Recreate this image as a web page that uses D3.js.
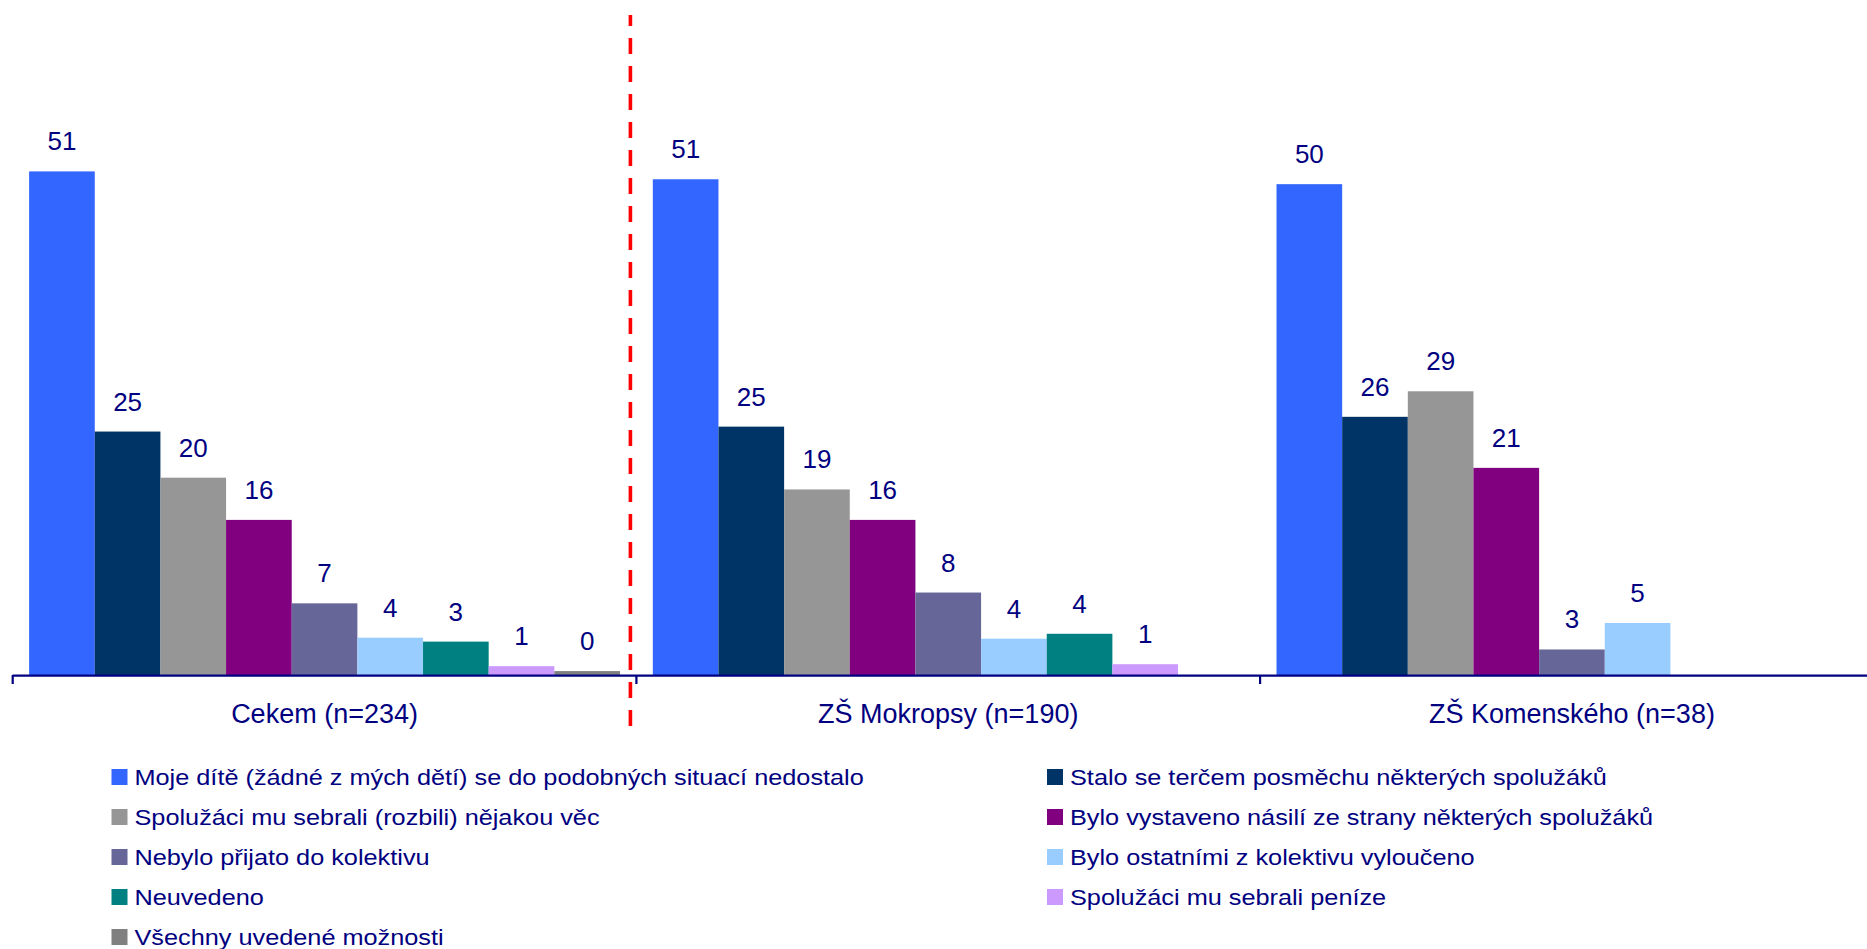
<!DOCTYPE html>
<html>
<head>
<meta charset="utf-8">
<script src="https://cdn.jsdelivr.net/npm/d3@7"></script>
<style>
  html, body { margin: 0; padding: 0; background: #ffffff; overflow: hidden; }
  svg { display: block; }
  text { font-family: "Liberation Sans", Arial, sans-serif; fill: #000080; }
</style>
</head>
<body>
<svg id="chart" width="1867" height="949"></svg>
<script>
// ---- data ----
const groups = ["Cekem (n=234)", "ZŠ Mokropsy (n=190)", "ZŠ Komenského (n=38)"];
const series = [
  "Moje dítě (žádné z mých dětí) se do podobných situací nedostalo",
  "Stalo se terčem posměchu některých spolužáků",
  "Spolužáci mu sebrali (rozbili) nějakou věc",
  "Bylo vystaveno násilí ze strany některých spolužáků",
  "Nebylo přijato do kolektivu",
  "Bylo ostatními z kolektivu vyloučeno",
  "Neuvedeno",
  "Spolužáci mu sebrali peníze",
  "Všechny uvedené možnosti"
];
const colors = ["#3366FF", "#003366", "#969696", "#800080", "#666699", "#99CCFF", "#008080", "#CC99FF", "#808080"];
// values per group (percent), in series order; null = not shown
const valuesCekem     = [51.3, 24.8, 20.1, 15.8, 7.3, 3.8, 3.4, 0.9, 0.4];
const valuesMokropsy  = [50.5, 25.3, 18.9, 15.8, 8.4, 3.7, 4.2, 1.1, null];
const valuesKomenskeho = [50.0, 26.3, 28.9, 21.1, 2.6, 5.3, null, null, null];
const groupValues = [valuesCekem, valuesMokropsy, valuesKomenskeho];

// ---- layout ----
const svg = d3.select("#chart");
const baseline = 675;
const plotLeft = 12.7, groupW = 623.7;

const x0 = d3.scaleBand().domain(groups).range([plotLeft, plotLeft + groupW * groups.length]).padding(0);
const x1 = d3.scaleBand().domain(series).range([0, x0.bandwidth()]).paddingInner(0).paddingOuter(0.25);
const y = d3.scaleLinear().domain([0, 60]).range([baseline, 86]);
const fmt = d3.format(".0f");

const data = [];
groups.forEach((g, gi) => {
  series.forEach((s, si) => {
    const v = groupValues[gi][si];
    if (v !== null && v !== undefined) data.push({ g, s, si, v });
  });
});

// bars
svg.append("g").selectAll("rect").data(data).join("rect")
  .attr("x", d => x0(d.g) + x1(d.s))
  .attr("y", d => y(d.v))
  .attr("width", x1.bandwidth())
  .attr("height", d => y(0) - y(d.v))
  .attr("fill", d => colors[d.si]);

// value labels
svg.append("g").selectAll("text").data(data).join("text")
  .attr("x", d => x0(d.g) + x1(d.s) + x1.bandwidth() / 2)
  .attr("y", d => y(d.v) - 21)
  .attr("text-anchor", "middle")
  .style("font-size", "26px")
  .text(d => fmt(d.v));

// x axis
const axisG = svg.append("g");
axisG.append("line")
  .attr("x1", plotLeft).attr("x2", 1867)
  .attr("y1", baseline + 0.7).attr("y2", baseline + 0.7)
  .attr("stroke", "#000080").attr("stroke-width", 2.2);
const bounds = groups.map(g => x0(g));
axisG.selectAll("line.tick").data(bounds).join("line")
  .attr("class", "tick")
  .attr("x1", d => d).attr("x2", d => d)
  .attr("y1", baseline).attr("y2", baseline + 9)
  .attr("stroke", "#000080").attr("stroke-width", 2.2);
axisG.selectAll("text").data(groups).join("text")
  .attr("x", d => x0(d) + x0.bandwidth() / 2)
  .attr("y", 723)
  .attr("text-anchor", "middle")
  .style("font-size", "27px")
  .text(d => d);

// red dashed separator
svg.append("line")
  .attr("x1", x0(groups[1]) - 6).attr("x2", x0(groups[1]) - 6)
  .attr("y1", 15).attr("y2", 726)
  .attr("stroke", "#FF0000").attr("stroke-width", 3.6)
  .attr("stroke-dasharray", "16 12").attr("stroke-dashoffset", 5);

// legend
const legendCols = [111.5, 1047];
const legend = svg.append("g").selectAll("g").data(series).join("g")
  .attr("transform", (d, i) => `translate(${legendCols[i % 2]},${785 + Math.floor(i / 2) * 40})`);
legend.append("rect")
  .attr("x", 0).attr("y", -16).attr("width", 16).attr("height", 16)
  .attr("fill", (d, i) => colors[i]);
legend.append("text")
  .attr("transform", "translate(23,0) scale(1.15,1)")
  .style("font-size", "22px")
  .text(d => d);
</script>
</body>
</html>
